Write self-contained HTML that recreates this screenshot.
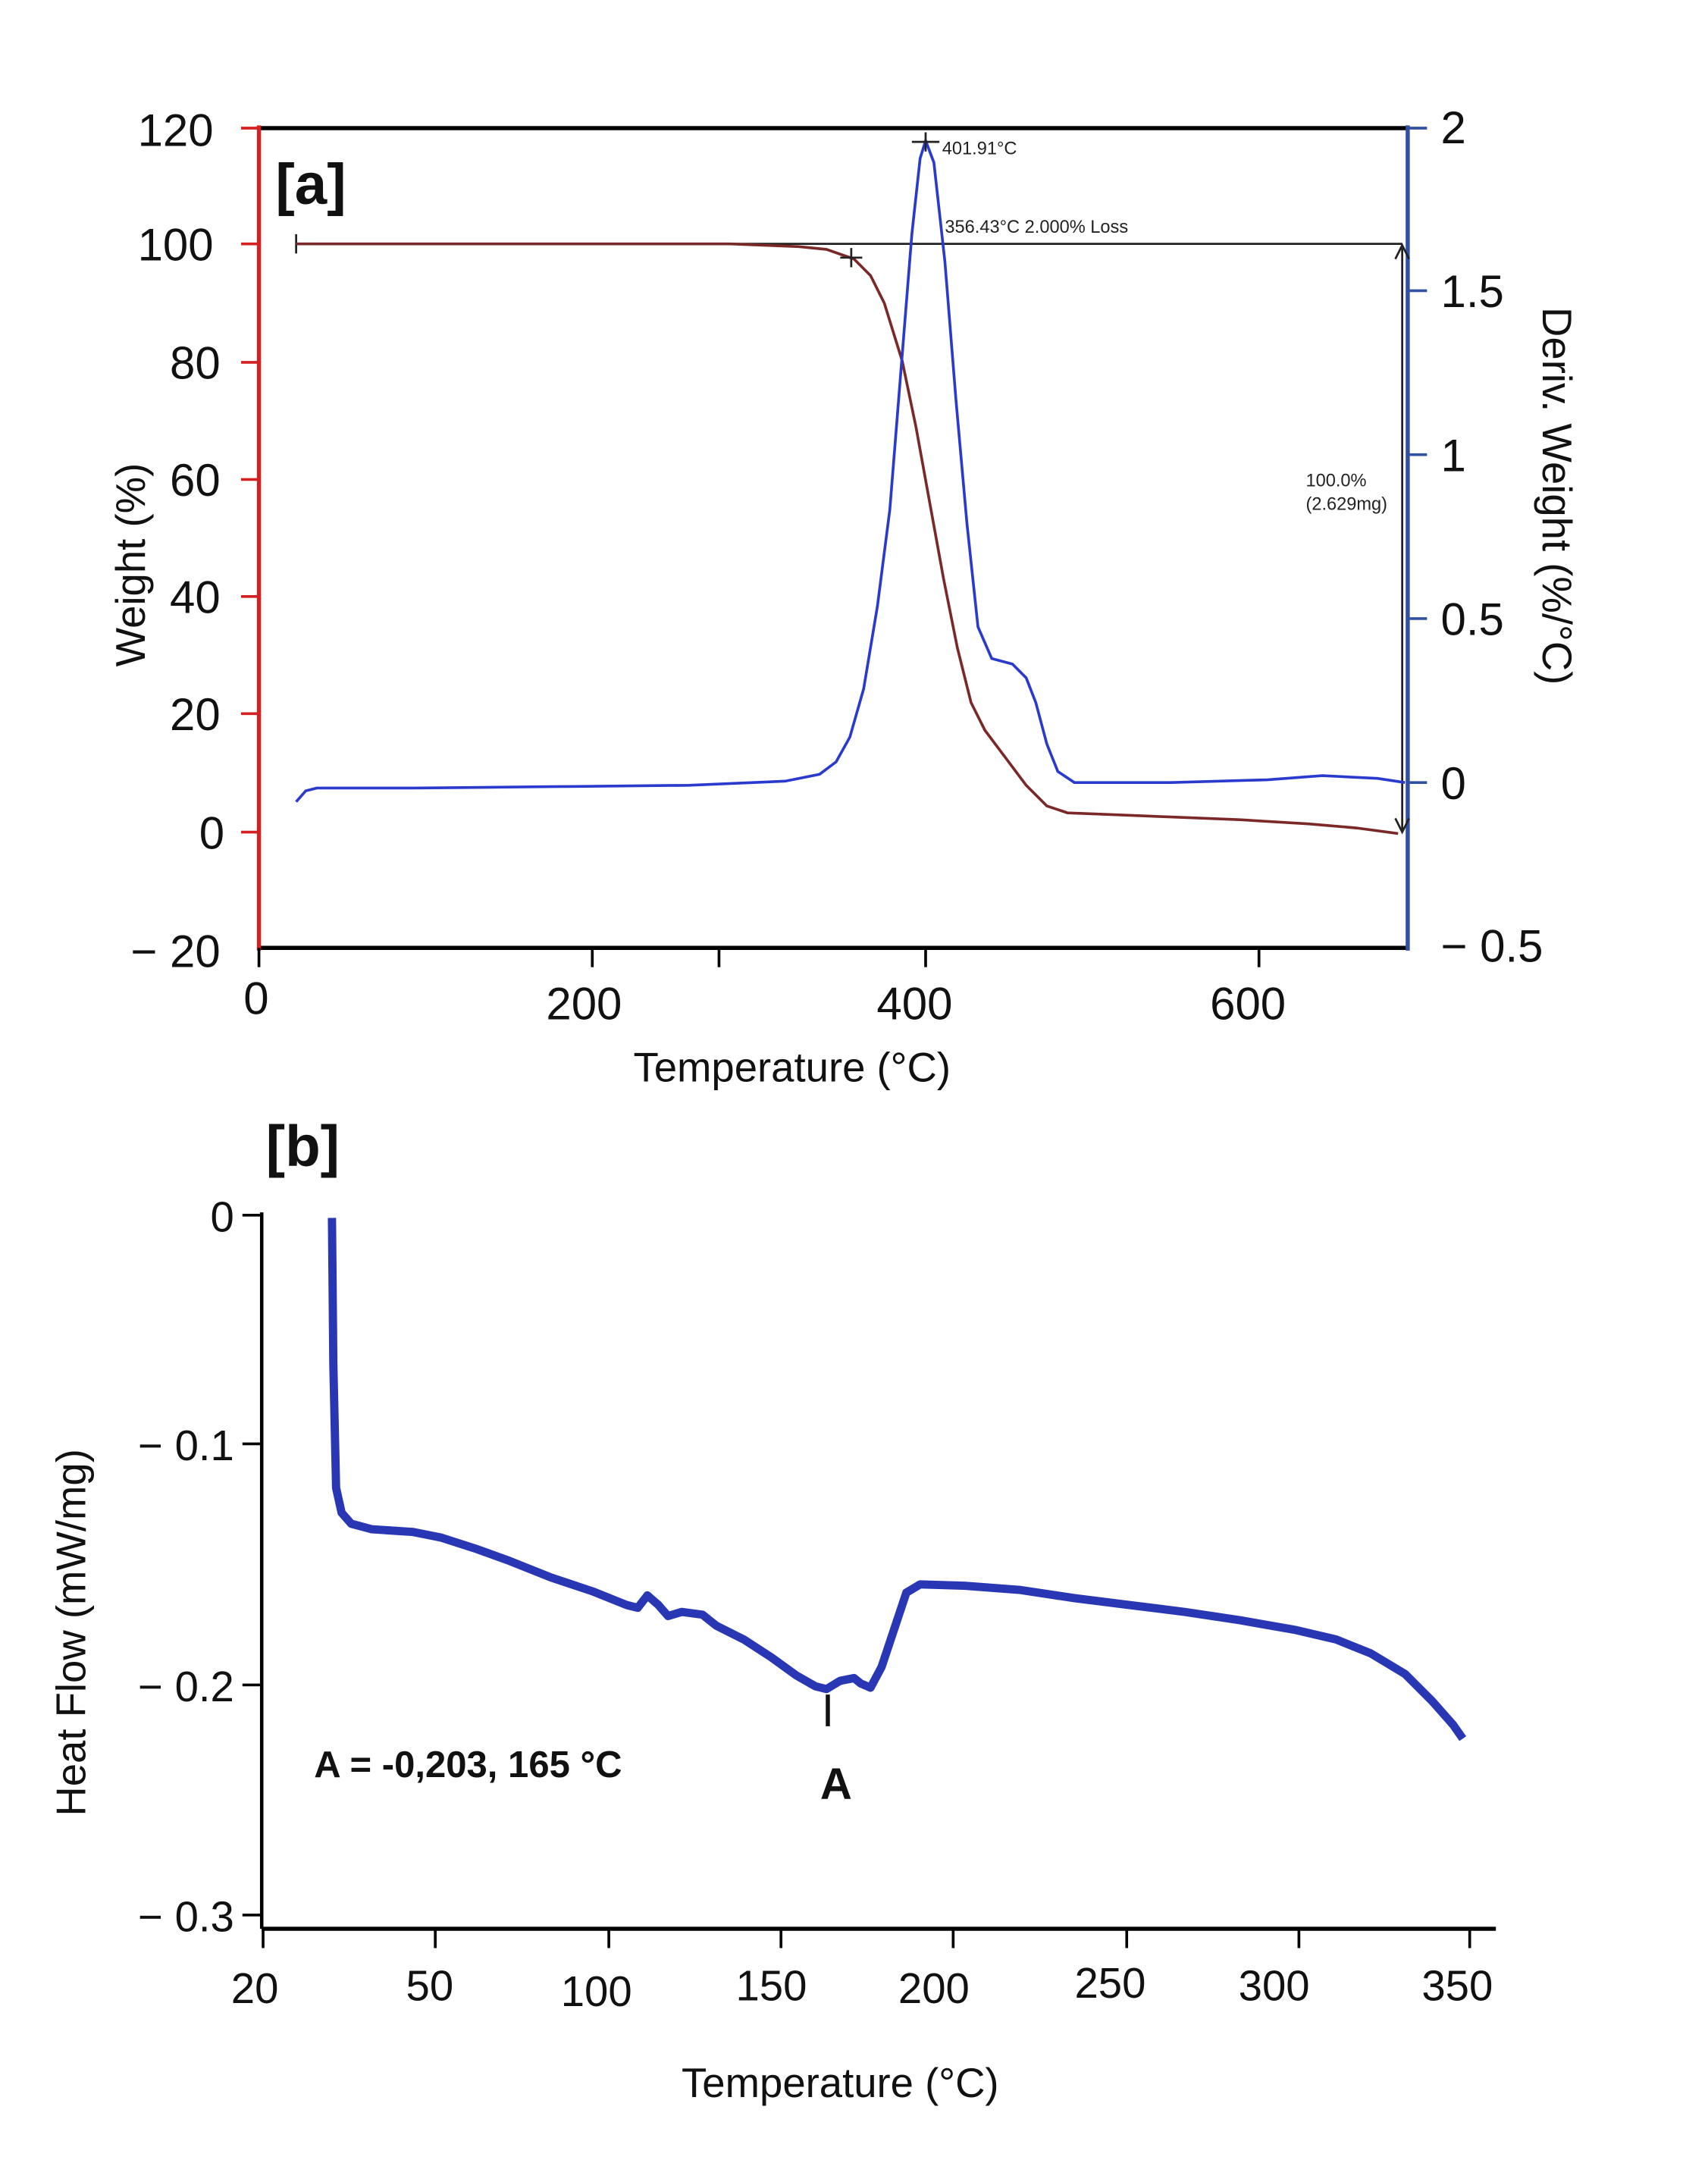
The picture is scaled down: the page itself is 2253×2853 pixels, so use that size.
<!DOCTYPE html>
<html><head><style>html,body{margin:0;padding:0;background:#fff}svg{display:block}</style></head><body>
<svg width="2253" height="2853" viewBox="0 0 1240 1570" preserveAspectRatio="none" xmlns="http://www.w3.org/2000/svg" font-family="Liberation Sans, sans-serif">
<rect width="1240" height="1570" fill="#fff"/>
<!-- Panel a -->
<line x1="188" y1="93" x2="1022" y2="93" stroke="#000" stroke-width="3"/>
<line x1="188" y1="688" x2="1022" y2="688" stroke="#000" stroke-width="3"/>
<line x1="188" y1="91" x2="188" y2="690" stroke="#d42020" stroke-width="3"/>
<line x1="1022" y1="91" x2="1022" y2="690" stroke="#3050a0" stroke-width="3"/>
<g stroke="#d42020" stroke-width="2">
<line x1="175" y1="93" x2="188" y2="93"/><line x1="175" y1="177" x2="188" y2="177"/><line x1="175" y1="263" x2="188" y2="263"/><line x1="175" y1="348" x2="188" y2="348"/><line x1="175" y1="433" x2="188" y2="433"/><line x1="175" y1="518" x2="188" y2="518"/><line x1="175" y1="604" x2="188" y2="604"/></g>
<g stroke="#3050a0" stroke-width="2">
<line x1="1022" y1="93" x2="1036" y2="93"/><line x1="1022" y1="211" x2="1036" y2="211"/><line x1="1022" y1="330" x2="1036" y2="330"/><line x1="1022" y1="449" x2="1036" y2="449"/><line x1="1022" y1="568" x2="1036" y2="568"/></g>
<g stroke="#000" stroke-width="2">
<line x1="188" y1="688" x2="188" y2="702"/><line x1="430" y1="688" x2="430" y2="702"/><line x1="522" y1="688" x2="522" y2="702"/><line x1="672" y1="688" x2="672" y2="702"/><line x1="914" y1="688" x2="914" y2="702"/></g>
<g font-size="33" fill="#111" text-anchor="end">
<text x="155" y="106">120</text><text x="155" y="189">100</text><text x="160" y="275">80</text><text x="160" y="360">60</text><text x="160" y="445">40</text><text x="160" y="530">20</text><text x="163" y="616">0</text><text x="160" y="702">− 20</text></g>
<g font-size="33" fill="#111">
<text x="1046" y="104">2</text><text x="1046" y="223">1.5</text><text x="1046" y="342">1</text><text x="1046" y="461">0.5</text><text x="1046" y="580">0</text><text x="1046" y="698">− 0.5</text></g>
<g font-size="33" fill="#111" text-anchor="middle">
<text x="186" y="736">0</text><text x="424" y="740">200</text><text x="664" y="740">400</text><text x="906" y="740">600</text></g>
<text x="575" y="785" font-size="30" text-anchor="middle" fill="#111">Temperature (°C)</text>
<text transform="translate(105,410) rotate(-90)" font-size="30" text-anchor="middle" fill="#111">Weight (%)</text>
<text transform="translate(1120,360) rotate(90)" font-size="30" text-anchor="middle" fill="#111">Deriv. Weight (%/°C)</text>
<text x="200" y="148" font-size="42" font-weight="bold" fill="#111">[a]</text>
<line x1="215" y1="177" x2="1018" y2="177" stroke="#222" stroke-width="1.5"/>
<line x1="215" y1="170" x2="215" y2="184" stroke="#222" stroke-width="1.5"/>
<line x1="1018" y1="180" x2="1018" y2="604" stroke="#222" stroke-width="1.5"/>
<path d="M1013,188 L1018,178 L1023,188 M1013,594 L1018,604 L1023,594" fill="none" stroke="#222" stroke-width="1.5"/>
<path d="M215,177 L530,177 L580,179 L600,181 L620,188 L632,200 L642,220 L655,262 L665,310 L675,365 L685,420 L695,470 L705,510 L715,530 L730,550 L745,570 L760,585 L775,590 L800,591 L850,593 L900,595 L950,598 L985,601 L1015,605" fill="none" stroke="#7a2828" stroke-width="2"/>
<path d="M215,582 L222,574 L230,572 L300,572 L400,571 L500,570 L570,567 L595,562 L607,553 L617,535 L627,500 L637,440 L646,370 L654,270 L662,170 L668,115 L672,102 L678,118 L686,190 L694,290 L702,380 L710,455 L720,478 L735,482 L745,492 L752,510 L760,540 L768,560 L780,568 L850,568 L920,566 L960,563 L1000,565 L1020,568" fill="none" stroke="#2a3acc" stroke-width="2"/>
<path d="M662,103 L682,103 M672,96 L672,110 M610,187 L626,187 M618,180 L618,194" stroke="#222" stroke-width="1.5"/>
<g font-size="13" fill="#222"><text x="684" y="112">401.91°C</text><text x="686" y="169">356.43°C 2.000% Loss</text><text x="948" y="353">100.0%</text><text x="948" y="370">(2.629mg)</text></g>
<!-- Panel b -->
<line x1="190" y1="880" x2="190" y2="1400" stroke="#000" stroke-width="2.5"/>
<line x1="190" y1="1400" x2="1086" y2="1400" stroke="#000" stroke-width="3"/>
<g stroke="#000" stroke-width="2">
<line x1="176" y1="882" x2="190" y2="882"/><line x1="176" y1="1048" x2="190" y2="1048"/><line x1="176" y1="1223" x2="190" y2="1223"/><line x1="176" y1="1390" x2="190" y2="1390"/>
<line x1="191" y1="1400" x2="191" y2="1414"/><line x1="316" y1="1400" x2="316" y2="1414"/><line x1="442" y1="1400" x2="442" y2="1414"/><line x1="567" y1="1400" x2="567" y2="1414"/><line x1="692" y1="1400" x2="692" y2="1414"/><line x1="818" y1="1400" x2="818" y2="1414"/><line x1="943" y1="1400" x2="943" y2="1414"/><line x1="1067" y1="1400" x2="1067" y2="1414"/></g>
<g font-size="31" fill="#111" text-anchor="end">
<text x="170" y="894">0</text><text x="170" y="1060">− 0.1</text><text x="170" y="1235">− 0.2</text><text x="170" y="1402">− 0.3</text></g>
<g font-size="31" fill="#111" text-anchor="middle">
<text x="185" y="1454">20</text><text x="312" y="1452">50</text><text x="433" y="1456">100</text><text x="560" y="1452">150</text><text x="678" y="1454">200</text><text x="806" y="1450">250</text><text x="925" y="1452">300</text><text x="1058" y="1452">350</text></g>
<text x="610" y="1522" font-size="30" text-anchor="middle" fill="#111">Temperature (°C)</text>
<text transform="translate(62,1185) rotate(-90)" font-size="30" text-anchor="middle" fill="#111">Heat Flow (mW/mg)</text>
<text x="193" y="846" font-size="42" font-weight="bold" fill="#111">[b]</text>
<path d="M241,884 L242,990 L244,1080 L248,1098 L255,1106 L270,1110 L300,1112 L320,1116 L345,1124 L370,1133 L400,1145 L430,1155 L455,1165 L463,1167 L470,1158 L478,1165 L485,1173 L495,1170 L510,1172 L520,1180 L540,1190 L560,1203 L578,1216 L592,1224 L600,1226 L610,1220 L620,1218 L625,1222 L632,1225 L640,1210 L650,1180 L658,1156 L668,1150 L700,1151 L740,1154 L780,1160 L820,1165 L860,1170 L900,1176 L940,1183 L970,1190 L995,1200 L1020,1215 L1040,1235 L1055,1252 L1062,1262" fill="none" stroke="#2a37b4" stroke-width="6" stroke-linejoin="round"/>
<line x1="601" y1="1230" x2="601" y2="1253" stroke="#111" stroke-width="3"/>
<text x="607" y="1306" font-size="32" font-weight="bold" text-anchor="middle" fill="#111">A</text>
<text x="228" y="1290" font-size="27" font-weight="bold" fill="#111">A = -0,203, 165 °C</text>
</svg>
</body></html>
